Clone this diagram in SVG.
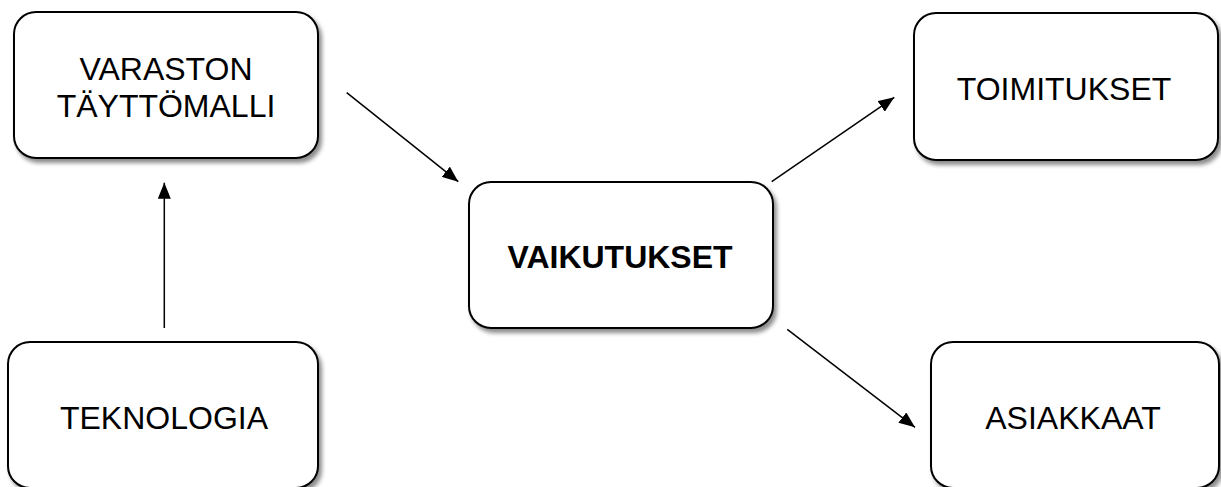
<svg xmlns="http://www.w3.org/2000/svg" width="1221" height="487" viewBox="0 0 1221 487">
<style>
.box{fill:#fff;stroke:#000;stroke-width:2;filter:url(#sh)}
.t{font-family:"Liberation Sans",Arial,sans-serif;font-size:32px;fill:#000;text-anchor:middle}
.b{font-weight:bold}
.c{stroke:#000;stroke-width:1.5;fill:none;marker-end:url(#ah)}
</style>
<defs>
<filter id="sh" x="-10%" y="-10%" width="130%" height="130%">
<feDropShadow dx="3" dy="4" stdDeviation="2" flood-color="#000" flood-opacity="0.45"/>
</filter>
<marker id="ah" viewBox="0 0 16 13" refX="16" refY="6.5" markerWidth="16" markerHeight="13" markerUnits="userSpaceOnUse" orient="auto">
<path d="M0,0 L16,6.5 L0,13 Z" fill="#000"/>
</marker>
</defs>
<rect width="1221" height="487" fill="#fff"/>
<g id="connectors">
<line class="c" x1="346.7" y1="92.7" x2="458.3" y2="181.7"/>
<line class="c" x1="771.7" y1="181.7" x2="894.3" y2="97.3"/>
<line class="c" x1="787.3" y1="329.3" x2="915" y2="427.3"/>
<line class="c" x1="164.3" y1="328" x2="164.3" y2="182.7"/>
</g>
<g id="varaston">
<rect class="box" x="14" y="12" width="304" height="146" rx="22"/>
<text class="t" x="166" y="79.5">VARASTON</text>
<text class="t" x="166" y="117">TÄYTTÖMALLI</text>
</g>
<g id="vaikutukset">
<rect class="box" x="469" y="182" width="304" height="146" rx="22"/>
<text class="t b" x="620" y="267.5">VAIKUTUKSET</text>
</g>
<g id="toimitukset">
<rect class="box" x="914" y="13" width="304" height="147" rx="22"/>
<text class="t" x="1064" y="99.5">TOIMITUKSET</text>
</g>
<g id="teknologia">
<rect class="box" x="8" y="342" width="310" height="146" rx="22"/>
<text class="t" x="164" y="428.5">TEKNOLOGIA</text>
</g>
<g id="asiakkaat">
<rect class="box" x="931" y="342" width="288" height="146" rx="22"/>
<text class="t" x="1073" y="428.5">ASIAKKAAT</text>
</g>
</svg>
